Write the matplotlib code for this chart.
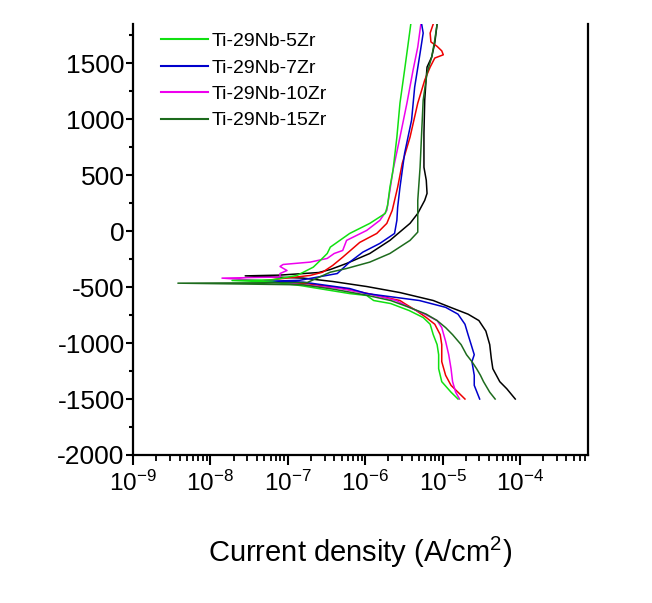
# potentiodynamic polarization curves of Ti-29Nb-xZr alloys

import numpy as np
import matplotlib.pyplot as plt
from matplotlib.ticker import FixedLocator, LogLocator, MultipleLocator, FuncFormatter, NullFormatter

plt.rcParams['font.family'] = ['Liberation Sans', 'DejaVu Sans']
plt.rcParams['axes.unicode_minus'] = False
plt.rcParams['mathtext.fontset'] = 'custom'
plt.rcParams['mathtext.rm'] = 'Liberation Sans'
plt.rcParams['mathtext.it'] = 'Liberation Sans:italic'
plt.rcParams['mathtext.bf'] = 'Liberation Sans:bold'

# potential (mV) and log10 current density (A/cm2)
E_5zr = [-1500, -1439, -1345, -1229, -1104, -1014, -925, -832, -772, -710, -647, -620, -575, -558, -486, -455,
         -441, -436, -396, -322, -262, -200, -143, -21, 69, 158, 230, 391, 543, 839, 1143, 1440, 1644, 1850]
logi_5zr = [-4.80, -4.89, -5.01, -5.05, -5.05, -5.07, -5.12, -5.16, -5.25, -5.43, -5.67, -5.89, -5.98, -6.20, -6.84, -7.20,
            -7.72, -7.20, -6.88, -6.67, -6.58, -6.49, -6.45, -6.20, -5.94, -5.74, -5.71, -5.68, -5.64, -5.59, -5.55, -5.49, -5.45, -5.41]

E_7zr = [-1500, -1378, -1288, -1166, -1104, -1014, -925, -832, -742, -681, -620, -558, -513, -456, -448,
         -440, -379, -277, -188, -110, -21, 96, 212, 391, 695, 991, 1286, 1590, 1769, 1850]
logi_7zr = [-4.52, -4.59, -4.59, -4.62, -4.59, -4.63, -4.67, -4.71, -4.80, -4.96, -5.30, -5.98, -6.20, -6.80, -7.30,
            -6.85, -6.36, -6.20, -6.03, -5.81, -5.62, -5.59, -5.58, -5.55, -5.49, -5.40, -5.36, -5.29, -5.25, -5.27]

E_10zr = [-1500, -1439, -1345, -1229, -1104, -985, -862, -799, -742, -681, -620, -560, -510, -480, -450, -420, -410,
          -379, -352, -316, -298, -277, -244, -200, -173, -83, 6, 96, 185, 543, 839, 1143, 1440, 1644, 1850]
logi_10zr = [-4.78, -4.83, -4.87, -4.89, -4.92, -4.96, -5.01, -5.07, -5.23, -5.43, -5.60, -5.95, -6.35, -6.80, -7.20, -7.85, -7.10,
             -7.10, -7.01, -7.10, -7.06, -6.71, -6.49, -6.40, -6.29, -6.24, -5.98, -5.81, -5.72, -5.64, -5.55, -5.46, -5.38, -5.32, -5.28]

E_15zr = [-1500, -1439, -1345, -1288, -1229, -1166, -1104, -1014, -925, -862, -799, -742, -681, -620, -570, -520, -480,
          -465, -460, -367, -334, -277, -200, -83, -9, 125, 275, 570, 874, 1170, 1411, 1555, 1707, 1850]
logi_15zr = [-4.32, -4.39, -4.47, -4.51, -4.56, -4.62, -4.69, -4.76, -4.87, -4.96, -5.07, -5.21, -5.43, -5.67, -6.00, -6.40, -6.80,
             -8.42, -6.75, -6.45, -6.24, -5.94, -5.68, -5.42, -5.32, -5.32, -5.32, -5.29, -5.27, -5.25, -5.20, -5.14, -5.10, -5.07]

E_red = [-1500, -1439, -1378, -1288, -1166, -1014, -925, -832, -772, -710, -647, -620, -560, -510, -470, -445, -423, -396, -367,
         -307, -233, -101, -21, 69, 185, 391, 606, 839, 1143, 1349, 1465, 1546, 1575, 1610, 1650, 1690, 1769, 1850]
logi_red = [-4.71, -4.80, -4.89, -4.96, -5.01, -5.01, -5.03, -5.10, -5.21, -5.34, -5.49, -5.55, -5.95, -6.30, -6.75, -7.35, -7.06, -6.71, -6.55,
            -6.42, -6.29, -6.07, -5.85, -5.72, -5.65, -5.58, -5.52, -5.42, -5.32, -5.23, -5.16, -5.10, -4.99, -5.01, -5.07, -5.15, -5.16, -5.12]

E_blk = [-1500, -1408, -1345, -1229, -1136, -1014, -893, -799, -742, -683, -620, -549, -495, -450, -420, -400, -393, -370,
         -343, -289, -200, -83, 69, 158, 275, 337, 454, 570, 874, 1170, 1376, 1465, 1555, 1680, 1850]
logi_blk = [-4.06, -4.17, -4.26, -4.35, -4.37, -4.39, -4.44, -4.53, -4.67, -4.89, -5.12, -5.55, -5.98, -6.42, -6.80, -7.55, -7.10, -6.60,
            -6.45, -6.24, -5.94, -5.68, -5.42, -5.32, -5.23, -5.20, -5.21, -5.24, -5.24, -5.23, -5.21, -5.20, -5.14, -5.10, -5.07]

labels = ['Ti-29Nb-5Zr', 'Ti-29Nb-7Zr', 'Ti-29Nb-10Zr', 'Ti-29Nb-15Zr']
xtick_vals = [1e-9, 1e-8, 1e-7, 1e-6, 1e-5, 1e-4]
ytick_vals = [-2000, -1500, -1000, -500, 0, 500, 1000, 1500]

fig = plt.figure(figsize=(6.52, 6.03), dpi=100)
ax = fig.add_axes([133/652, 1 - 455/603, 455/652, 431/603])

ax.plot(10**np.array(logi_blk), E_blk, color='black', linewidth=1.1)
ax.plot(10**np.array(logi_red), E_red, color='#ee0000', linewidth=1.1)
l10, = ax.plot(10**np.array(logi_10zr), E_10zr, color='#ee00ee', linewidth=1.1)
l7, = ax.plot(10**np.array(logi_7zr), E_7zr, color='#0000cc', linewidth=1.1)
l5, = ax.plot(10**np.array(logi_5zr), E_5zr, color='#11e011', linewidth=1.1)
l15, = ax.plot(10**np.array(logi_15zr), E_15zr, color='#1d6b1d', linewidth=1.1)

ax.set_xscale('log')
ax.set_xlim(1e-9, 10**-3.12)
ax.set_ylim(-2000, 1850)

ax.xaxis.set_major_locator(FixedLocator(xtick_vals))
ax.xaxis.set_major_formatter(FuncFormatter(lambda v, p: '$10^{%d}$' % round(np.log10(v))))
ax.xaxis.set_minor_locator(LogLocator(base=10, subs=np.arange(2, 10), numticks=20))
ax.xaxis.set_minor_formatter(NullFormatter())
ax.yaxis.set_major_locator(FixedLocator(ytick_vals))
ax.yaxis.set_minor_locator(MultipleLocator(250))

ax.spines['top'].set_visible(False)
for s in ['left', 'bottom', 'right']:
    ax.spines[s].set_linewidth(1.6)
ax.tick_params(axis='y', which='major', direction='out', length=5, width=1.5, pad=1, labelsize=19)
ax.tick_params(axis='y', which='minor', direction='out', length=3, width=1.5)
ax.tick_params(axis='x', which='major', direction='out', length=7, width=1.5, pad=4, labelsize=17.5)
ax.tick_params(axis='x', which='minor', direction='out', length=4, width=1.3)

ax.set_xlabel('Current density (A/cm$^2$)', fontsize=21, labelpad=28)

leg = ax.legend([l5, l7, l10, l15], labels, loc='upper left', bbox_to_anchor=(0.045, 0.998),
                frameon=False, handlelength=2.4, handletextpad=0.2, labelspacing=0.45,
                borderaxespad=0, prop={'family': 'Liberation Sans', 'size': 14})
for h in leg.get_lines():
    h.set_linewidth(1.5)

fig.savefig('out.png', dpi=100)
